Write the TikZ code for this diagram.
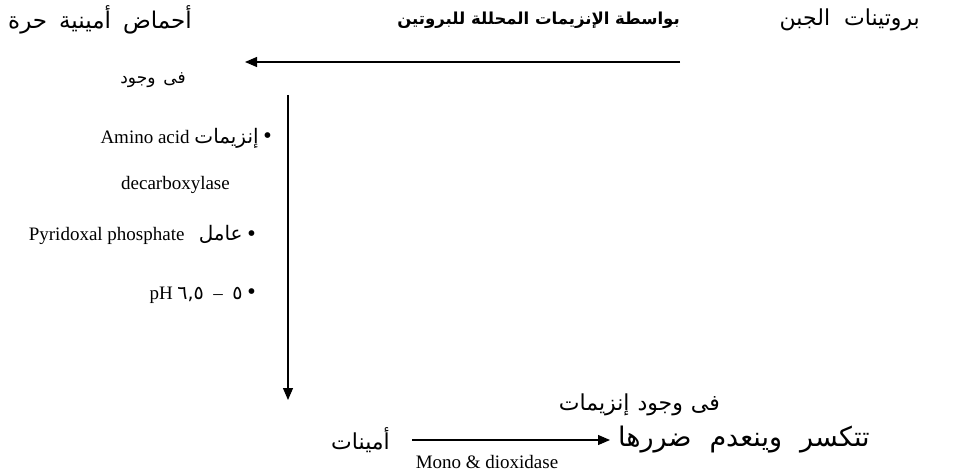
\documentclass[tikz,border=0pt]{standalone}
\usepackage{fontspec}
\setmainfont{Liberation Serif}
\newfontfamily\arabicfont[Script=Arabic]{DejaVu Sans}
\TeXXeTstate=1
\usetikzlibrary{arrows.meta,positioning}

\begin{document}
\begin{tikzpicture}[
    x=1pt, y=-1pt,
    ar/.style={font=\arabicfont\fontsize{22}{26}\selectfont, inner sep=0pt},
    arbold/.style={font=\arabicfont\bfseries\fontsize{16.5}{22}\selectfont, inner sep=0pt},
    lt/.style={font=\fontsize{19}{22}\selectfont, inner sep=0pt},
    flow/.style={-{Triangle[length=12pt,width=10pt]}, line width=1.1pt}
]
\newcommand{\dotmark}{{\fontsize{24}{24}\selectfont\raisebox{-0.5pt}{•}}}
\newcommand{\gap}[1]{\hspace*{#1pt}}
\useasboundingbox (0,0) rectangle (953,476);
% top row
\node[ar, anchor=east] (cheese) at (920,20) {\beginR بروتينات\gap{14}الجبن\endR};
\node[arbold, anchor=east] (byenz) at (680,20) {\beginR بواسطة الإنزيمات المحللة للبروتين\endR};
\node[ar, anchor=west, font=\arabicfont\fontsize{23}{26}\selectfont] (free) at (8,20) {\beginR أحماض\gap{12}أمينية\gap{12}حرة\endR};
\coordinate (topR) at (680,62);
\coordinate (topL) at (245,62);
\draw[flow] (topR) -- (topL);
% conditions
\node[ar, anchor=east, font=\arabicfont\fontsize{17}{22}\selectfont] (inpres) at (186,80) {\beginR فى\gap{8}وجود\endR};
\node[lt, anchor=east] (c1) at (272,138) {Amino acid {\arabicfont\fontsize{20}{22}\selectfont\beginR إنزيمات\endR}\ \dotmark};
\node[lt, anchor=east] (c1b) at (230,185) {decarboxylase};
\node[lt, anchor=east] (c2) at (256,235) {Pyridoxal phosphate\ \ \ {\arabicfont\fontsize{20}{22}\selectfont\beginR عامل\endR}\ \dotmark};
\node[lt, anchor=east] (c3) at (256,295) {pH {\arabicfont ٦,٥}\ \ –\ \ {\arabicfont ٥}\ \dotmark};
\coordinate (vtop) at (288,95);
\coordinate (vbot) at (288,400);
\draw[flow] (vtop) -- (vbot);
% bottom row
\node[ar, anchor=east] (amines) at (390,440) {\beginR أمينات\endR};
\node[ar, anchor=west, font=\arabicfont\fontsize{27}{28}\selectfont] (broken) at (618,440) {\beginR تتكسر\gap{18}وينعدم\gap{18}ضررها\endR};
\draw[flow, shorten <=22pt, shorten >=8pt] (amines.east) -- (broken.west);
\node[ar, anchor=east] (inenz) at (720,405) {\beginR فى\gap{8}وجود\gap{8}إنزيمات\endR};
\node[lt] (mono) at (487,462) {Mono \& dioxidase};
\end{tikzpicture}
\end{document}
